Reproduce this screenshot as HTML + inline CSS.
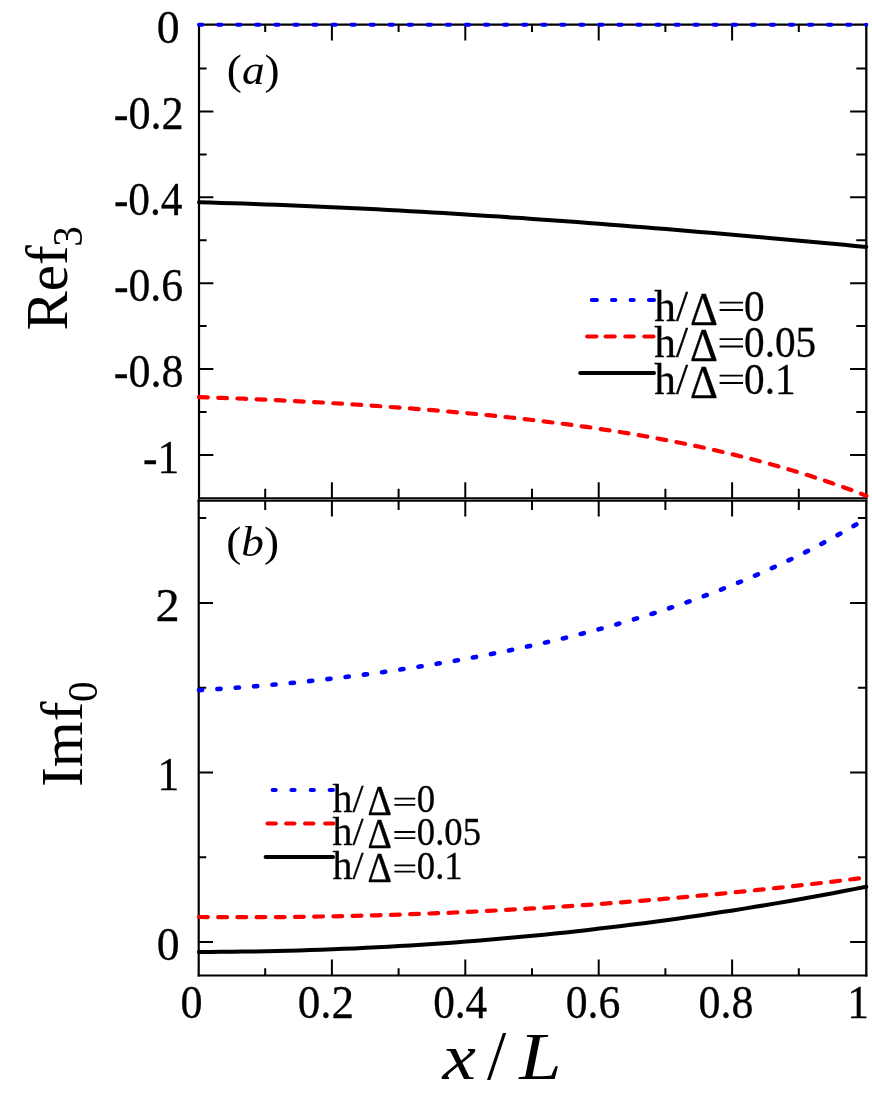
<!DOCTYPE html>
<html><head><meta charset="utf-8"><title>fig</title>
<style>html,body{margin:0;padding:0;background:#fff;}svg{display:block;will-change:transform;}text{font-family:"Liberation Serif",serif;fill:#000;}.s text{stroke:#000;stroke-width:0.3px;stroke-linejoin:round;}</style></head><body>
<svg width="872" height="1100" viewBox="0 0 872 1100">
<rect width="872" height="1100" fill="#fff"/>
<g stroke="#000" fill="none" stroke-linecap="square">
<path d="M199.0,24.7 V498.1" stroke-width="2.2"/>
<path d="M866.3,24.7 V498.1" stroke-width="2.3"/>
<path d="M199.0,24.7 H866.3" stroke-width="2.3"/>
<path d="M199.0,498.1 H866.3" stroke-width="1.8"/>
<path d="M198.7,500.65 V975.4" stroke-width="2.2"/>
<path d="M866.3,500.65 V975.4" stroke-width="2.3"/>
<path d="M198.7,500.65 H866.3" stroke-width="2.1"/>
<path d="M198.7,975.4 H866.3" stroke-width="2.0"/>
</g>
<g stroke="#000" stroke-width="2.0" stroke-linecap="butt">
<path d="M265.2,24.7 v7.2 M265.2,498.1 v-9.3 M265.2,500.65 v9.3 M265.2,975.4 v-7.2"/>
<path d="M331.9,24.7 v15.9 M331.9,498.1 v-15.8 M331.9,500.65 v15.8 M331.9,975.4 v-15.9"/>
<path d="M398.6,24.7 v7.2 M398.6,498.1 v-9.3 M398.6,500.65 v9.3 M398.6,975.4 v-7.2"/>
<path d="M465.3,24.7 v15.9 M465.3,498.1 v-15.8 M465.3,500.65 v15.8 M465.3,975.4 v-15.9"/>
<path d="M532.0,24.7 v7.2 M532.0,498.1 v-9.3 M532.0,500.65 v9.3 M532.0,975.4 v-7.2"/>
<path d="M598.7,24.7 v15.9 M598.7,498.1 v-15.8 M598.7,500.65 v15.8 M598.7,975.4 v-15.9"/>
<path d="M665.4,24.7 v7.2 M665.4,498.1 v-9.3 M665.4,500.65 v9.3 M665.4,975.4 v-7.2"/>
<path d="M732.1,24.7 v15.9 M732.1,498.1 v-15.8 M732.1,500.65 v15.8 M732.1,975.4 v-15.9"/>
<path d="M798.8,24.7 v7.2 M798.8,498.1 v-9.3 M798.8,500.65 v9.3 M798.8,975.4 v-7.2"/>
<path d="M199.0,68.5 h7.6 M866.3,68.5 h-10.0"/>
<path d="M199.0,111.5 h14.4 M866.3,111.5 h-16.2"/>
<path d="M199.0,154.4 h7.6 M866.3,154.4 h-10.0"/>
<path d="M199.0,197.3 h14.4 M866.3,197.3 h-16.2"/>
<path d="M199.0,240.2 h7.6 M866.3,240.2 h-10.0"/>
<path d="M199.0,283.2 h14.4 M866.3,283.2 h-16.2"/>
<path d="M199.0,326.1 h7.6 M866.3,326.1 h-10.0"/>
<path d="M199.0,369.0 h14.4 M866.3,369.0 h-16.2"/>
<path d="M199.0,412.0 h7.6 M866.3,412.0 h-10.0"/>
<path d="M199.0,454.9 h14.4 M866.3,454.9 h-16.2"/>
<path d="M198.6,942.1 h14.4 M866.3,942.1 h-16.2"/>
<path d="M198.6,857.3 h7.6 M866.3,857.3 h-8.4"/>
<path d="M198.6,772.5 h14.4 M866.3,772.5 h-16.2"/>
<path d="M198.6,687.7 h7.6 M866.3,687.7 h-8.4"/>
<path d="M198.6,602.9 h14.4 M866.3,602.9 h-16.2"/>
<path d="M198.6,518.1 h7.6 M866.3,518.1 h-8.4"/>
</g>
<path d="M199.0,202.3 L210.1,202.6 L221.2,202.9 L232.4,203.2 L243.5,203.6 L254.6,204.0 L265.7,204.4 L276.9,204.8 L288.0,205.2 L299.1,205.7 L310.2,206.2 L321.3,206.7 L332.5,207.2 L343.6,207.7 L354.7,208.2 L365.8,208.8 L376.9,209.3 L388.1,209.9 L399.2,210.5 L410.3,211.2 L421.4,211.8 L432.6,212.4 L443.7,213.1 L454.8,213.8 L465.9,214.5 L477.0,215.2 L488.2,215.9 L499.3,216.6 L510.4,217.4 L521.5,218.1 L532.6,218.9 L543.8,219.7 L554.9,220.5 L566.0,221.3 L577.1,222.1 L588.3,223.0 L599.4,223.8 L610.5,224.7 L621.6,225.5 L632.7,226.4 L643.9,227.3 L655.0,228.2 L666.1,229.1 L677.2,230.0 L688.4,231.0 L699.5,231.9 L710.6,232.8 L721.7,233.8 L732.8,234.8 L744.0,235.7 L755.1,236.7 L766.2,237.7 L777.3,238.7 L788.4,239.7 L799.6,240.7 L810.7,241.7 L821.8,242.8 L832.9,243.8 L844.1,244.8 L855.2,245.9 L866.3,246.9" stroke="#000" stroke-width="4.0" stroke-linecap="round" fill="none" stroke-linejoin="round"/>
<path d="M199.0,397.1 L210.1,397.5 L221.2,397.9 L232.4,398.3 L243.5,398.7 L254.6,399.2 L265.7,399.7 L276.9,400.2 L288.0,400.7 L299.1,401.3 L310.2,401.9 L321.3,402.5 L332.5,403.2 L343.6,403.8 L354.7,404.5 L365.8,405.2 L376.9,406.0 L388.1,406.8 L399.2,407.6 L410.3,408.4 L421.4,409.3 L432.6,410.2 L443.7,411.1 L454.8,412.1 L465.9,413.1 L477.0,414.1 L488.2,415.2 L499.3,416.4 L510.4,417.5 L521.5,418.8 L532.6,420.0 L543.8,421.4 L554.9,422.8 L566.0,424.2 L577.1,425.7 L588.3,427.2 L599.4,428.9 L610.5,430.5 L621.6,432.3 L632.7,434.1 L643.9,436.0 L655.0,438.0 L666.1,440.1 L677.2,442.2 L688.4,444.5 L699.5,446.8 L710.6,449.2 L721.7,451.8 L732.8,454.4 L744.0,457.1 L755.1,460.0 L766.2,463.0 L777.3,466.1 L788.4,469.3 L799.6,472.6 L810.7,476.1 L821.8,479.7 L832.9,483.5 L844.1,487.4 L855.2,491.5 L866.3,495.7" stroke="#f00" stroke-width="4.2" stroke-linecap="round" stroke-dasharray="8.8 10.4" fill="none"/>
<path d="M199.0,24.7 L866.3,24.7" stroke="#00f" stroke-width="4.0" stroke-linecap="round" stroke-dasharray="3.3 15.76" fill="none"/>
<path d="M199.0,951.9 L210.1,951.9 L221.2,951.8 L232.4,951.7 L243.5,951.6 L254.6,951.4 L265.7,951.2 L276.9,951.0 L288.0,950.7 L299.1,950.4 L310.2,950.1 L321.3,949.7 L332.5,949.3 L343.6,948.8 L354.7,948.4 L365.8,947.8 L376.9,947.3 L388.1,946.7 L399.2,946.1 L410.3,945.4 L421.4,944.7 L432.6,944.0 L443.7,943.2 L454.8,942.4 L465.9,941.6 L477.0,940.7 L488.2,939.8 L499.3,938.8 L510.4,937.8 L521.5,936.8 L532.6,935.8 L543.8,934.7 L554.9,933.5 L566.0,932.4 L577.1,931.2 L588.3,929.9 L599.4,928.6 L610.5,927.3 L621.6,926.0 L632.7,924.6 L643.9,923.2 L655.0,921.7 L666.1,920.2 L677.2,918.7 L688.4,917.1 L699.5,915.5 L710.6,913.8 L721.7,912.1 L732.8,910.4 L744.0,908.6 L755.1,906.8 L766.2,905.0 L777.3,903.1 L788.4,901.2 L799.6,899.2 L810.7,897.3 L821.8,895.2 L832.9,893.2 L844.1,891.0 L855.2,888.9 L866.3,886.7" stroke="#000" stroke-width="4.0" stroke-linecap="round" fill="none" stroke-linejoin="round"/>
<path d="M199.0,917.0 L210.1,917.1 L221.2,917.2 L232.4,917.2 L243.5,917.2 L254.6,917.2 L265.7,917.1 L276.9,917.1 L288.0,917.0 L299.1,916.9 L310.2,916.7 L321.3,916.5 L332.5,916.3 L343.6,916.1 L354.7,915.9 L365.8,915.6 L376.9,915.3 L388.1,915.0 L399.2,914.6 L410.3,914.2 L421.4,913.8 L432.6,913.4 L443.7,913.0 L454.8,912.5 L465.9,912.0 L477.0,911.5 L488.2,910.9 L499.3,910.3 L510.4,909.7 L521.5,909.1 L532.6,908.4 L543.8,907.8 L554.9,907.1 L566.0,906.3 L577.1,905.6 L588.3,904.8 L599.4,904.0 L610.5,903.2 L621.6,902.3 L632.7,901.5 L643.9,900.6 L655.0,899.7 L666.1,898.7 L677.2,897.7 L688.4,896.7 L699.5,895.7 L710.6,894.7 L721.7,893.6 L732.8,892.5 L744.0,891.4 L755.1,890.2 L766.2,889.1 L777.3,887.9 L788.4,886.7 L799.6,885.4 L810.7,884.2 L821.8,882.9 L832.9,881.6 L844.1,880.2 L855.2,878.9 L866.3,877.5" stroke="#f00" stroke-width="4.2" stroke-linecap="round" stroke-dasharray="8.8 10.4" fill="none"/>
<path d="M199.0,690.2 L210.1,689.5 L221.2,688.8 L232.4,688.1 L243.5,687.2 L254.6,686.3 L265.7,685.4 L276.9,684.4 L288.0,683.3 L299.1,682.2 L310.2,681.0 L321.3,679.8 L332.5,678.5 L343.6,677.2 L354.7,675.8 L365.8,674.4 L376.9,672.9 L388.1,671.3 L399.2,669.7 L410.3,668.0 L421.4,666.3 L432.6,664.5 L443.7,662.7 L454.8,660.8 L465.9,658.8 L477.0,656.7 L488.2,654.6 L499.3,652.4 L510.4,650.2 L521.5,647.8 L532.6,645.4 L543.8,642.9 L554.9,640.3 L566.0,637.7 L577.1,634.9 L588.3,632.1 L599.4,629.1 L610.5,626.1 L621.6,622.9 L632.7,619.7 L643.9,616.3 L655.0,612.9 L666.1,609.3 L677.2,605.5 L688.4,601.7 L699.5,597.7 L710.6,593.6 L721.7,589.3 L732.8,584.9 L744.0,580.3 L755.1,575.6 L766.2,570.7 L777.3,565.7 L788.4,560.5 L799.6,555.1 L810.7,549.5 L821.8,543.7 L832.9,537.7 L844.1,531.5 L855.2,525.1 L866.3,518.5" stroke="#00f" stroke-width="4.6" stroke-linecap="round" stroke-dasharray="3.2 15.2" fill="none"/>
<g class="s">
<text transform="translate(156.76,43.4) scale(0.9840,1.0)" font-size="46.5">0</text>
<text transform="translate(113.76,129.4) scale(0.9505,1.0)" font-size="46.5">-0.2</text>
<text transform="translate(113.90,215.3) scale(0.9327,1.0)" font-size="46.5">-0.4</text>
<text transform="translate(113.88,301.4) scale(0.9413,1.0)" font-size="46.5">-0.6</text>
<text transform="translate(113.87,387.4) scale(0.9469,1.0)" font-size="46.5">-0.8</text>
<text transform="translate(179.20,473.3) scale(0.9355,1)" font-size="46.5" text-anchor="end">-1</text>
<text transform="translate(155.62,620.8) scale(1.0378,1.0)" font-size="46.5">2</text>
<text transform="translate(179.20,790.4) scale(0.9355,1)" font-size="46.5" text-anchor="end">1</text>
<text transform="translate(156.76,960.0) scale(0.9840,1.0)" font-size="46.5">0</text>
<text transform="translate(180.42,1017.9) scale(0.9485,1.0)" font-size="46.5">0</text>
<text transform="translate(297.69,1017.9) scale(0.9703,1.0)" font-size="46.5">0.2</text>
<text transform="translate(433.16,1017.9) scale(0.9306,1.0)" font-size="46.5">0.4</text>
<text transform="translate(565.74,1017.9) scale(0.9398,1.0)" font-size="46.5">0.6</text>
<text transform="translate(698.43,1017.9) scale(0.9452,1.0)" font-size="46.5">0.8</text>
<text transform="translate(847.30,1017.9) scale(0.9355,1)" font-size="46.5" text-anchor="start">1</text>
</g>
<text transform="translate(226.85,84.2) scale(1.03,0.965)" font-size="44">(<tspan font-style="italic">a</tspan>)</text>
<text transform="translate(226.25,555.6) scale(1.03,0.965)" font-size="44">(<tspan font-style="italic">b</tspan>)</text>
<g transform="translate(66.9,330.6) rotate(-90)"><text x="0" y="0" font-size="59">Ref</text><text x="83.8" y="15" font-size="41.4">3</text></g>
<g transform="translate(81.6,786.8) rotate(-90)"><text x="0" y="0" font-size="59">Imf</text><text x="84.7" y="15" font-size="41.4">0</text></g>
<text transform="translate(442.6,1079.3) scale(1.09,0.95)" font-size="69" font-style="italic">x</text>
<text x="487.1" y="1079.3" font-size="69">/</text>
<text transform="translate(519.3,1079.3) scale(1.10,0.985)" font-size="69" font-style="italic">L</text>
<g class="s">
<text x="654.3" y="320.5" font-size="43.3">h/</text>
<text transform="translate(690.1,324.8) scale(1.0,1.083)" font-size="43.3" stroke="#000" stroke-width="0.4">Δ</text>
<path d="M719.6,302.6 H743.0 M719.6,310.0 H743.0" stroke="#000" stroke-width="1.9" fill="none"/>
<text transform="translate(744.1,320.5) scale(0.952,1)" font-size="43.3">0</text>
<text x="654.3" y="357.0" font-size="43.3">h/</text>
<text transform="translate(690.1,361.3) scale(1.0,1.083)" font-size="43.3" stroke="#000" stroke-width="0.4">Δ</text>
<path d="M719.6,339.1 H743.0 M719.6,346.5 H743.0" stroke="#000" stroke-width="1.9" fill="none"/>
<text transform="translate(744.1,357.0) scale(0.952,1)" font-size="43.3">0.05</text>
<text x="654.3" y="393.5" font-size="43.3">h/</text>
<text transform="translate(690.1,397.8) scale(1.0,1.083)" font-size="43.3" stroke="#000" stroke-width="0.4">Δ</text>
<path d="M719.6,375.6 H743.0 M719.6,383.0 H743.0" stroke="#000" stroke-width="1.9" fill="none"/>
<text transform="translate(744.1,393.5) scale(0.952,1)" font-size="43.3">0.1</text>
<path d="M591.8,300.1 L596.9,300.1" stroke="#00f" stroke-width="4.0" stroke-linecap="round"/>
<path d="M612.0,300.1 L615.3,300.1" stroke="#00f" stroke-width="4.0" stroke-linecap="round"/>
<path d="M630.6,300.1 L633.7,300.1" stroke="#00f" stroke-width="4.0" stroke-linecap="round"/>
<path d="M648.9,300.1 L654.0,300.1" stroke="#00f" stroke-width="4.0" stroke-linecap="round"/>
<path d="M587.1,336.6 L596.4,336.6" stroke="#f00" stroke-width="4.0" stroke-linecap="round"/>
<path d="M605.5,336.6 L614.8,336.6" stroke="#f00" stroke-width="4.0" stroke-linecap="round"/>
<path d="M625.3,336.6 L633.7,336.6" stroke="#f00" stroke-width="4.0" stroke-linecap="round"/>
<path d="M644.3,336.6 L653.5,336.6" stroke="#f00" stroke-width="4.0" stroke-linecap="round"/>
<path d="M580.2,373.1 L654.0,373.1" stroke="#000" stroke-width="4.0" stroke-linecap="round"/>
<text x="332.5" y="811.7" font-size="39.8">h/</text>
<text transform="translate(367.4,814.7) scale(0.95,1.06)" font-size="39.8" stroke="#000" stroke-width="0.4">Δ</text>
<path d="M394.4,798.6 H415.3 M394.4,804.8 H415.3" stroke="#000" stroke-width="1.8" fill="none"/>
<text transform="translate(416.8,811.7) scale(0.922,1)" font-size="39.8">0</text>
<text x="332.5" y="845.1" font-size="39.8">h/</text>
<text transform="translate(367.4,848.1) scale(0.95,1.06)" font-size="39.8" stroke="#000" stroke-width="0.4">Δ</text>
<path d="M394.4,832.0 H415.3 M394.4,838.2 H415.3" stroke="#000" stroke-width="1.8" fill="none"/>
<text transform="translate(416.8,845.1) scale(0.922,1)" font-size="39.8">0.05</text>
<text x="332.5" y="878.5" font-size="39.8">h/</text>
<text transform="translate(367.4,881.5) scale(0.95,1.06)" font-size="39.8" stroke="#000" stroke-width="0.4">Δ</text>
<path d="M394.4,865.4 H415.3 M394.4,871.6 H415.3" stroke="#000" stroke-width="1.8" fill="none"/>
<text transform="translate(416.8,878.5) scale(0.922,1)" font-size="39.8">0.1</text>
<path d="M272.6,790.1 L275.7,790.1" stroke="#00f" stroke-width="4.0" stroke-linecap="round"/>
<path d="M291.4,790.1 L294.6,790.1" stroke="#00f" stroke-width="4.0" stroke-linecap="round"/>
<path d="M310.7,790.1 L313.9,790.1" stroke="#00f" stroke-width="4.0" stroke-linecap="round"/>
<path d="M329.6,790.1 L333.0,790.1" stroke="#00f" stroke-width="4.0" stroke-linecap="round"/>
<path d="M267.5,823.5 L275.9,823.5" stroke="#f00" stroke-width="4.0" stroke-linecap="round"/>
<path d="M286.1,823.5 L294.4,823.5" stroke="#f00" stroke-width="4.0" stroke-linecap="round"/>
<path d="M305.0,823.5 L313.4,823.5" stroke="#f00" stroke-width="4.0" stroke-linecap="round"/>
<path d="M325.1,823.5 L333.5,823.5" stroke="#f00" stroke-width="4.0" stroke-linecap="round"/>
<path d="M265.6,856.9 L333.0,856.9" stroke="#000" stroke-width="4.0" stroke-linecap="round"/>
</g>
</svg></body></html>
